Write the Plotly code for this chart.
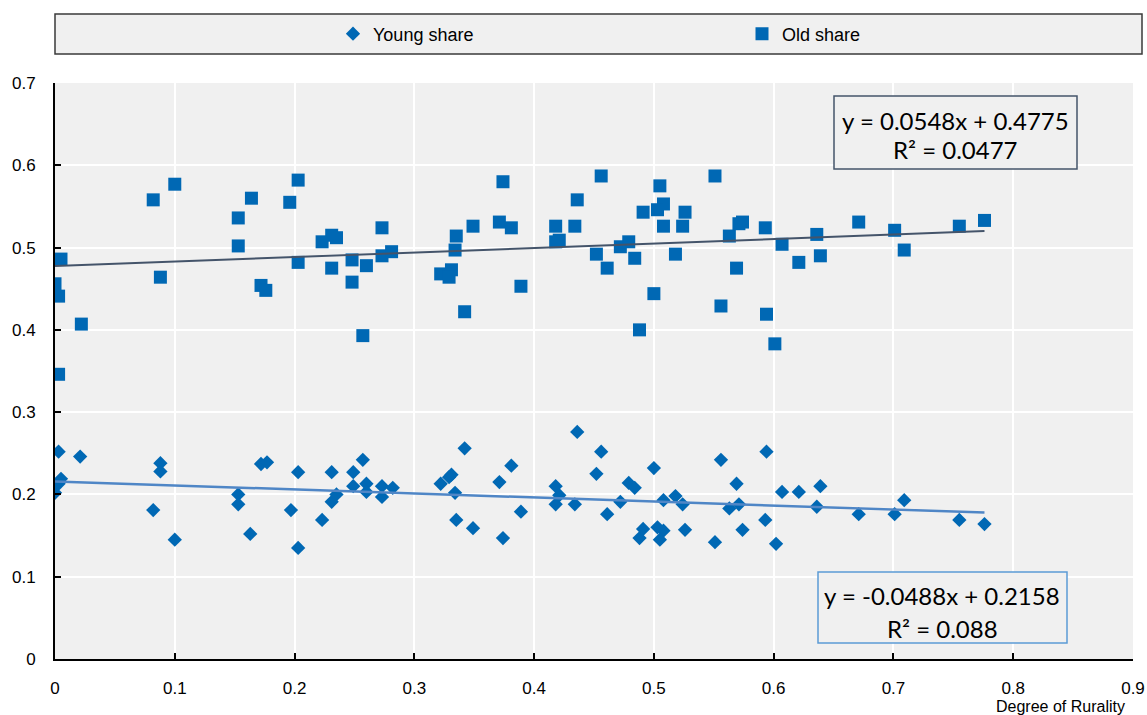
import plotly.graph_objects as go

# ---------------- data ----------------
old_x = [0.000, 0.003, 0.005, 0.003, 0.022, 0.082, 0.088, 0.100, 0.153, 0.153,
         0.164, 0.172, 0.176, 0.196, 0.203, 0.203, 0.223, 0.231, 0.235, 0.231,
         0.248, 0.248, 0.257, 0.260, 0.273, 0.273, 0.281, 0.322, 0.331, 0.329,
         0.335, 0.334, 0.342, 0.349, 0.374, 0.371, 0.381, 0.389, 0.418, 0.418,
         0.421, 0.436, 0.434, 0.456, 0.452, 0.461, 0.472, 0.479, 0.484, 0.488,
         0.491, 0.505, 0.508, 0.503, 0.508, 0.500, 0.518, 0.526, 0.524, 0.551,
         0.556, 0.563, 0.571, 0.574, 0.569, 0.593, 0.594, 0.601, 0.607, 0.621,
         0.636, 0.639, 0.671, 0.701, 0.709, 0.755, 0.776]
old_y = [0.456, 0.441, 0.486, 0.346, 0.407, 0.558, 0.464, 0.577, 0.536, 0.502,
         0.560, 0.454, 0.448, 0.555, 0.582, 0.482, 0.507, 0.515, 0.512, 0.475,
         0.458, 0.485, 0.393, 0.478, 0.524, 0.490, 0.495, 0.468, 0.473, 0.464,
         0.514, 0.497, 0.422, 0.526, 0.580, 0.531, 0.524, 0.453, 0.526, 0.507,
         0.509, 0.558, 0.526, 0.587, 0.492, 0.475, 0.501, 0.507, 0.487, 0.400,
         0.543, 0.575, 0.553, 0.546, 0.526, 0.444, 0.492, 0.543, 0.526, 0.587,
         0.429, 0.514, 0.529, 0.531, 0.475, 0.524, 0.419, 0.383, 0.504, 0.482,
         0.516, 0.490, 0.531, 0.521, 0.497, 0.526, 0.533]

young_x = [0.000, 0.003, 0.005, 0.003, 0.021, 0.082, 0.088, 0.088, 0.100, 0.153,
           0.153, 0.163, 0.172, 0.177, 0.197, 0.203, 0.203, 0.223, 0.231, 0.231,
           0.235, 0.249, 0.249, 0.257, 0.260, 0.260, 0.273, 0.273, 0.282, 0.322,
           0.329, 0.331, 0.334, 0.335, 0.342, 0.349, 0.371, 0.374, 0.381, 0.389,
           0.418, 0.418, 0.421, 0.436, 0.434, 0.456, 0.452, 0.461, 0.472, 0.479,
           0.484, 0.488, 0.491, 0.500, 0.503, 0.508, 0.505, 0.508, 0.518, 0.524,
           0.526, 0.551, 0.556, 0.563, 0.569, 0.571, 0.574, 0.593, 0.594, 0.602,
           0.607, 0.621, 0.636, 0.639, 0.671, 0.701, 0.709, 0.755, 0.776]
young_y = [0.202, 0.252, 0.219, 0.213, 0.246, 0.181, 0.238, 0.228, 0.145, 0.200,
           0.188, 0.152, 0.237, 0.239, 0.181, 0.227, 0.135, 0.169, 0.227, 0.191,
           0.200, 0.227, 0.210, 0.242, 0.213, 0.203, 0.210, 0.197, 0.208, 0.213,
           0.221, 0.224, 0.202, 0.169, 0.256, 0.159, 0.215, 0.147, 0.235, 0.179,
           0.210, 0.188, 0.199, 0.276, 0.188, 0.252, 0.225, 0.176, 0.191, 0.214,
           0.208, 0.147, 0.158, 0.232, 0.160, 0.156, 0.145, 0.193, 0.198, 0.188,
           0.157, 0.142, 0.242, 0.183, 0.213, 0.188, 0.157, 0.169, 0.252, 0.140,
           0.203, 0.203, 0.185, 0.210, 0.176, 0.176, 0.193, 0.169, 0.164]

# linear trends as printed on the chart: (slope, intercept, R²)
old_fit = (0.0548, 0.4775, 0.0477)
young_fit = (-0.0488, 0.2158, 0.088)
trend_x = [0.0, 0.776]

x_ticks = [0, 0.1, 0.2, 0.3, 0.4, 0.5, 0.6, 0.7, 0.8, 0.9]
x_tick_text = ["0", "0.1", "0.2", "0.3", "0.4", "0.5", "0.6", "0.7", "0.8", "0.9"]
y_ticks = [0, 0.1, 0.2, 0.3, 0.4, 0.5, 0.6, 0.7]
y_tick_text = ["0", "0.1", "0.2", "0.3", "0.4", "0.5", "0.6", "0.7"]

# ---------------- styling ----------------
MARK = "#0068B4"
SANS = "Liberation Sans, Arial, sans-serif"
CAL = "Lato, Carlito, Calibri, sans-serif"
BG = "#F0F0F0"

fig = go.Figure()

fig.add_trace(go.Scatter(
    x=young_x, y=young_y, mode="markers", name="Young share", legend="legend",
    marker=dict(symbol="diamond", size=11, color=MARK, line=dict(width=0)),
))
fig.add_trace(go.Scatter(
    x=old_x, y=old_y, mode="markers", name="Old share", legend="legend2",
    marker=dict(symbol="square", size=13, color=MARK, line=dict(width=0)),
))

# trend lines
fig.add_trace(go.Scatter(
    x=trend_x, y=[old_fit[0] * v + old_fit[1] for v in trend_x],
    mode="lines", line=dict(color="#44546A", width=2), showlegend=False,
    hoverinfo="skip",
))
fig.add_trace(go.Scatter(
    x=trend_x, y=[young_fit[0] * v + young_fit[1] for v in trend_x],
    mode="lines", line=dict(color="#4F86C6", width=2.5), showlegend=False,
    hoverinfo="skip",
))

W, H = 1147, 715
L, R, T, B = 55, 14, 83, 56
pw, ph = W - L - R, H - T - B


def px2paper_x(px):
    return (px - L) / pw


def px2paper_y(py):
    return (H - B - py) / ph


shapes = [
    # legend frame
    dict(type="rect", xref="paper", yref="paper",
         x0=px2paper_x(55), x1=px2paper_x(1142),
         y0=px2paper_y(54), y1=px2paper_y(14),
         fillcolor=BG, line=dict(color="#3A3A3A", width=1.5), layer="below"),
    # equation boxes
    dict(type="rect", xref="paper", yref="paper",
         x0=px2paper_x(834), x1=px2paper_x(1077),
         y0=px2paper_y(169), y1=px2paper_y(96),
         fillcolor=BG, line=dict(color="#44546A", width=1.5)),
    dict(type="rect", xref="paper", yref="paper",
         x0=px2paper_x(818), x1=px2paper_x(1067),
         y0=px2paper_y(643), y1=px2paper_y(572),
         fillcolor=BG, line=dict(color="#5B9BD5", width=1.5)),
]


def eq_text(xc, yc, txt):
    return dict(xref="paper", yref="paper", x=px2paper_x(xc), y=px2paper_y(yc),
                xanchor="center", yanchor="middle", text=txt, showarrow=False,
                font=dict(family=CAL, size=24, color="#000000"))


annotations = [
    eq_text(955, 120, f"y = {old_fit[0]:.4f}x + {old_fit[1]:.4f}"),
    eq_text(955, 149, f"R² = {old_fit[2]}"),
    eq_text(942, 595, f"y = {young_fit[0]:.4f}x + {young_fit[1]:.4f}"),
    eq_text(942, 628, f"R² = {young_fit[2]}"),
    dict(xref="paper", yref="paper",
         x=px2paper_x(1127), y=px2paper_y(706), xanchor="right", yanchor="middle",
         text="Degree of Rurality", showarrow=False,
         font=dict(family=SANS, size=16, color="#000000")),
]

legend_common = dict(
    orientation="h", xanchor="left", yanchor="middle", y=px2paper_y(34),
    bgcolor="rgba(0,0,0,0)", borderwidth=0, itemwidth=30,
    font=dict(family=SANS, size=18, color="#000000"),
)

fig.update_layout(
    width=W, height=H,
    margin=dict(l=L, r=R, t=T, b=B, autoexpand=False),
    paper_bgcolor="white",
    plot_bgcolor=BG,
    font=dict(family=SANS, size=17, color="#000000"),
    showlegend=True,
    legend=dict(x=px2paper_x(333), **legend_common),
    legend2=dict(x=px2paper_x(742), **legend_common),
    shapes=shapes,
    annotations=annotations,
    xaxis=dict(
        range=[0, 0.9], tickvals=x_ticks, ticktext=x_tick_text, automargin=False,
        showgrid=True, gridcolor="white", gridwidth=2,
        zeroline=False, showline=True, linecolor="#000000", linewidth=2,
        ticks="inside", ticklen=6, tickcolor="#000000", tickwidth=1.5,
        ticklabelstandoff=13,
        tickfont=dict(family=SANS, size=17),
    ),
    yaxis=dict(
        range=[0, 0.7], tickvals=y_ticks, ticktext=y_tick_text, automargin=False,
        showgrid=True, gridcolor="white", gridwidth=2,
        zeroline=False, showline=True, linecolor="#000000", linewidth=2,
        ticks="inside", ticklen=6, tickcolor="#000000", tickwidth=1.5,
        ticklabelstandoff=14,
        tickfont=dict(family=SANS, size=17),
    ),
)

fig.write_html("out.html", config={"displayModeBar": False},
               post_script="document.body.style.margin='0px';")
